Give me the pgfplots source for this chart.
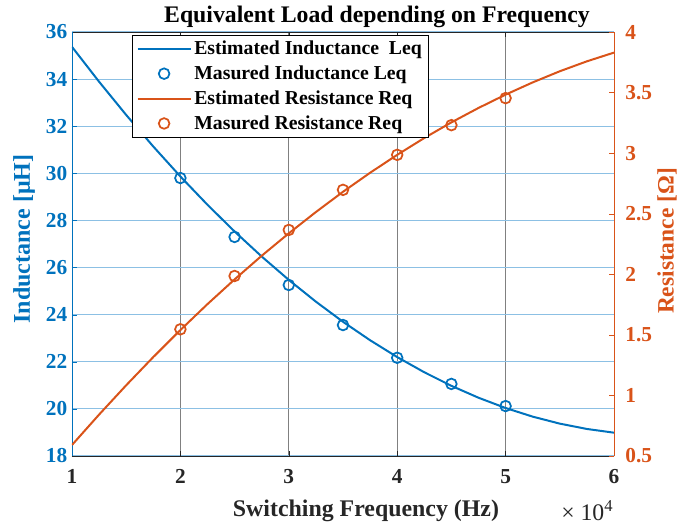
\documentclass[border=0pt]{standalone}
\usepackage{fontspec}
\setmainfont{Liberation Serif}
\usepackage{pgfplots}
\pgfplotsset{compat=1.18}
\definecolor{mblue}{RGB}{0,114,189}
\definecolor{morange}{RGB}{217,83,25}
\definecolor{gridblue}{RGB}{140,192,228}
\definecolor{spine}{RGB}{38,38,38}

\pgfplotsset{
  common/.style={
    scale only axis, width=406.5pt, height=318pt,
    xmin=1, xmax=6,
    tick align=inside, major tick length=4pt,
    /pgf/number format/assume math mode=true,
    ticklabel style={font=\fontsize{16}{18}\selectfont\bfseries},
  },
}

\begin{document}
\begin{tikzpicture}
\begin{axis}[
  common,
  name=main,
  ymin=18, ymax=36,
  xtick={1,2,3,4,5,6}, ytick={18,20,...,36},
  axis x line*=box, axis y line*=left,
  x axis line style={draw=spine, line width=0.6pt},
  y axis line style={draw=mblue, line width=0.6pt},
  every y tick/.append style={draw=mblue},
  every x tick/.append style={draw=spine},
  xmajorgrids, ymajorgrids,
  x grid style={black!50, line width=0.6pt},
  y grid style={gridblue, line width=0.9pt},
  xticklabel style={text=spine, yshift=-6.5pt},
  yticklabel style={text=mblue},
  title={Equivalent Load depending on Frequency},
  title style={at={(axis description cs:0.5627,1)}, anchor=base, yshift=1.5pt,
    font=\fontsize{17.8}{20}\selectfont\bfseries},
  xlabel={Switching Frequency (Hz)},
  xlabel style={at={(axis description cs:0.5424,0)}, anchor=base, yshift=-45pt,
    font=\fontsize{17.9}{20}\selectfont\bfseries, text=spine},
  ylabel={Inductance [μH]},
  ylabel style={at={(axis description cs:-0.0886,0.512)}, anchor=center,
    font=\fontsize{18}{20}\selectfont\bfseries, text=mblue},
]
\addplot[mblue, line width=1.5pt, mark=none] coordinates {
(1,35.370) (1.25,33.889) (1.5,32.478) (1.75,31.138) (2,29.866)
(2.25,28.664) (2.5,27.531) (2.75,26.469) (3,25.476) (3.25,24.552)
(3.5,23.698) (3.75,22.915) (4,22.200) (4.25,21.555) (4.5,20.979)
(4.75,20.474) (5,20.038) (5.25,19.671) (5.5,19.374) (5.75,19.148) (6,18.990)};
\addplot[mblue, only marks, mark=o, mark size=4pt, line width=1.3pt] coordinates {
(2,29.80) (2.5,27.30) (3,25.26) (3.5,23.56) (4,22.17) (4.5,21.06) (5,20.12)};
\end{axis}

\begin{axis}[
  common,
  ymin=0.5, ymax=4,
  ytick={0.5,1,1.5,2,2.5,3,3.5,4},
  yticklabels={0.5,1,1.5,2,2.5,3,3.5,4},
  axis x line=none, axis y line*=right,
  y axis line style={draw=morange, line width=0.6pt},
  every y tick/.append style={draw=morange},
  yticklabel style={text=morange, xshift=5pt},
  ylabel={Resistance [Ω]},
  ylabel style={at={(axis description cs:1.0978,0.507)}, anchor=center, rotate=0,
    font=\fontsize{17.6}{20}\selectfont\bfseries, text=morange},
  legend style={at={(axis description cs:0.111,0.994)}, anchor=north west,
    draw=black, fill=white, line width=0.6pt, row sep=2.9pt,
    font=\fontsize{14.8}{17}\selectfont\bfseries, inner xsep=3pt, inner ysep=2.5pt},
  legend cell align=left,
  legend image code/.code={
    \draw[mark repeat=2,mark phase=2] plot coordinates {(0cm,0cm) (0.7cm,0cm) (1.4cm,0cm)};},
]
\addlegendimage{mblue, line width=1.5pt, mark=none}
\addlegendentry{Estimated Inductance~ Leq}
\addlegendimage{mblue, only marks, mark=o, mark size=4pt, line width=1.3pt}
\addlegendentry{Masured Inductance Leq}
\addplot[morange, line width=1.5pt, mark=none] coordinates {
(1,0.591) (1.25,0.842) (1.5,1.084) (1.75,1.317) (2,1.540)
(2.25,1.754) (2.5,1.958) (2.75,2.153) (3,2.338) (3.25,2.514)
(3.5,2.681) (3.75,2.838) (4,2.986) (4.25,3.125) (4.5,3.254)
(4.75,3.373) (5,3.483) (5.25,3.584) (5.5,3.676) (5.75,3.758) (6,3.830)};
\addlegendentry{Estimated Resistance Req}
\addplot[morange, only marks, mark=o, mark size=4pt, line width=1.3pt] coordinates {
(2,1.546) (2.5,1.986) (3,2.366) (3.5,2.697) (4,2.986) (4.5,3.231) (5,3.454)};
\addlegendentry{Masured Resistance Req}
\end{axis}

\node[anchor=base east, font=\fontsize{17.8}{20}\selectfont, text=spine]
  at ([shift={(3pt,-48pt)}]main.south east) {× 10\textsuperscript{4}};

\pgfresetboundingbox
\path ([shift={(-54pt,-52.5pt)}]main.south west) rectangle ([shift={(50.25pt,24pt)}]main.north east);
\end{tikzpicture}
\end{document}
